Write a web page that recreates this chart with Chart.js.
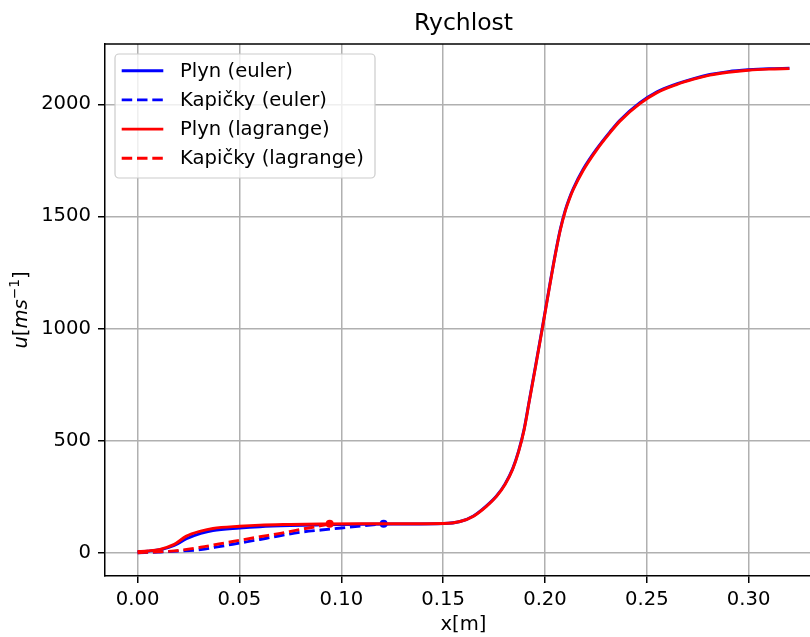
<!DOCTYPE html>
<html>
<head>
<meta charset="utf-8">
<title>Rychlost</title>
<script src="https://cdn.jsdelivr.net/npm/chart.js@4.4.0/dist/chart.umd.min.js"></script>
<style>
    html, body { margin: 0; padding: 0; background: #fff; overflow: hidden; }
    #wrap { width: 810px; height: 637px; overflow: hidden; }
    #wrap canvas { display: block; }
</style>
</head>
<body>
<div id="wrap"><canvas id="chart" width="830" height="637"></canvas></div>
<script>
// x positions [m] of the gas profile
const gasX = [0, 0.005, 0.011, 0.018, 0.024, 0.031, 0.037, 0.05, 0.06, 0.075, 0.09, 0.11, 0.13, 0.1502,
    0.1583, 0.1649, 0.1714, 0.1763, 0.1804, 0.1841, 0.1871, 0.1897, 0.1923, 0.1956, 0.1989, 0.2020, 0.2051,
    0.2075, 0.21, 0.212, 0.2139,
    0.2188, 0.2253, 0.2319, 0.2368, 0.2466, 0.2550, 0.2646, 0.2730, 0.2809, 0.2900, 0.2997, 0.31, 0.32];
// gas velocity [m/s]
const gasEuler = [4, 7, 13, 32, 62, 86, 99, 110, 116, 121, 124, 127, 128, 130,
    139, 164, 210, 254, 307, 374, 455, 549, 679, 845, 1014, 1177, 1334,
    1442, 1529, 1582, 1624,
    1711, 1800, 1877, 1929, 2007, 2056, 2091, 2115, 2133, 2146, 2154, 2159, 2161];
const gasLagrange = [5, 8, 15, 37, 74, 96, 108, 118, 123, 126, 128, 129, 129, 130,
    139, 163, 208, 252, 304, 371, 452, 545, 675, 840, 1010, 1173, 1330,
    1438, 1525, 1578, 1620,
    1706, 1796, 1873, 1925, 2003, 2052, 2088, 2112, 2130, 2143, 2152, 2157, 2159];

// droplets
const dropEulerX = [0, 0.01, 0.02, 0.031, 0.04, 0.05, 0.06, 0.067, 0.08, 0.09, 0.10, 0.11, 0.1208];
const dropEuler = [0, 3, 7, 14, 27, 43, 59, 71, 91, 101, 110, 119, 129];
const dropLagrangeX = [0, 0.01, 0.018, 0.031, 0.04, 0.05, 0.06, 0.07, 0.08, 0.087, 0.0943];
const dropLagrange = [0, 4, 8, 24, 39, 55, 71, 86, 104, 115, 129];

// tick labels
const xTicks = [0, 0.05, 0.10, 0.15, 0.20, 0.25, 0.30];
const yTicks = [0, 500, 1000, 1500, 2000];

// y axis label pieces: u[ms^-1]
const yTitle = [
    { t: 'u', style: 'italic', size: 19.6, rise: 0 },
    { t: '[', style: 'normal', size: 19.6, rise: 0 },
    { t: 'ms', style: 'italic', size: 19.6, rise: 0 },
    { t: '−1', style: 'normal', size: 13.7, rise: 8 },
    { t: ']', style: 'normal', size: 19.6, rise: 0 }
];

const FONT = 'DejaVu Sans';
const FS = 19.6;
const toPoints = (xs, ys) => xs.map((x, i) => ({ x: x, y: ys[i] }));
const lastDot = ctx => ctx.dataIndex === ctx.dataset.data.length - 1 ? 4 : 0;

function makeSet(label, xs, ys, color, dashed, order) {
    return {
        label: label,
        data: toPoints(xs, ys),
        borderColor: color,
        backgroundColor: color,
        borderWidth: 2.9,
        borderDash: dashed ? [10.5, 4.8] : [],
        pointRadius: dashed ? lastDot : 0,
        pointBorderWidth: 0,
        pointBackgroundColor: color,
        pointHoverRadius: 0,
        cubicInterpolationMode: 'monotone',
        fill: false,
        order: order
    };
}

// legend box inside the axes + top spine (like matplotlib)
const boxLegend = {
    id: 'boxLegend',
    afterDatasetsDraw(chart) {
        const ctx = chart.ctx;
        const area = chart.chartArea;
        ctx.save();
        // top spine
        ctx.beginPath();
        ctx.strokeStyle = '#000';
        ctx.lineWidth = 1.5;
        ctx.moveTo(area.left, area.top);
        ctx.lineTo(area.right, area.top);
        ctx.stroke();

        const x0 = area.left + 10, y0 = area.top + 10;
        const w = 260, h = 124, rowH = 29.2;
        ctx.beginPath();
        ctx.roundRect(x0, y0, w, h, 4);
        ctx.fillStyle = 'rgba(255,255,255,0.8)';
        ctx.fill();
        ctx.strokeStyle = '#cccccc';
        ctx.lineWidth = 1.2;
        ctx.stroke();

        chart.data.datasets.forEach((ds, i) => {
            const cy = y0 + 16.7 + i * rowH;
            ctx.beginPath();
            ctx.setLineDash(ds.borderDash);
            ctx.strokeStyle = ds.borderColor;
            ctx.lineWidth = ds.borderWidth;
            ctx.moveTo(x0 + 6.7, cy);
            ctx.lineTo(x0 + 48.3, cy);
            ctx.stroke();
            ctx.setLineDash([]);
            ctx.fillStyle = '#000';
            ctx.font = FS + 'px "' + FONT + '"';
            ctx.textBaseline = 'middle';
            ctx.textAlign = 'left';
            ctx.fillText(ds.label, x0 + 65, cy + 1);
        });
        ctx.restore();
    }
};

// rotated mathtext-like y label
const yLabel = {
    id: 'yLabel',
    afterDraw(chart) {
        const ctx = chart.ctx;
        const area = chart.chartArea;
        ctx.save();
        const fontOf = p => p.style + ' ' + p.size + 'px "' + FONT + '"';
        let total = 0;
        yTitle.forEach(p => { ctx.font = fontOf(p); total += ctx.measureText(p.t).width; });
        ctx.translate(26.5, (area.top + area.bottom) / 2 + total / 2);
        ctx.rotate(-Math.PI / 2);
        ctx.fillStyle = '#000';
        ctx.textBaseline = 'alphabetic';
        ctx.textAlign = 'left';
        let x = 0;
        yTitle.forEach(p => {
            ctx.font = fontOf(p);
            ctx.fillText(p.t, x, -p.rise);
            x += ctx.measureText(p.t).width;
        });
        ctx.restore();
    }
};

const ctx = document.getElementById('chart').getContext('2d');
new Chart(ctx, {
    type: 'line',
    data: {
        datasets: [
            makeSet('Plyn (euler)', gasX, gasEuler, '#0000ff', false, 1),
            makeSet('Kapičky (euler)', dropEulerX, dropEuler, '#0000ff', true, 1),
            makeSet('Plyn (lagrange)', gasX, gasLagrange, '#ff0000', false, 0),
            makeSet('Kapičky (lagrange)', dropLagrangeX, dropLagrange, '#ff0000', true, 0)
        ]
    },
    options: {
        responsive: false,
        devicePixelRatio: 1,
        animation: false,
        events: [],
        layout: { padding: { right: 8 } },
        scales: {
            x: {
                type: 'linear',
                min: -0.016,
                max: 0.336,
                afterBuildTicks: s => { s.ticks = xTicks.map(v => ({ value: v })); },
                afterFit: s => { s.height = 61; },
                ticks: {
                    callback: v => v.toFixed(2),
                    color: '#000',
                    font: { family: FONT, size: FS },
                    padding: 5,
                    maxRotation: 0,
                    autoSkip: false
                },
                grid: { color: '#b0b0b0', lineWidth: 1.5, tickColor: '#000', tickLength: 7, tickWidth: 1.5 },
                border: { color: '#000', width: 1.5 },
                title: {
                    display: true,
                    text: 'x[m]',
                    color: '#000',
                    font: { family: FONT, size: FS },
                    padding: { top: 0, bottom: 0 }
                }
            },
            y: {
                type: 'linear',
                min: -104,
                max: 2269,
                afterBuildTicks: s => { s.ticks = yTicks.map(v => ({ value: v })); },
                afterFit: s => { s.width = 105; },
                ticks: {
                    callback: v => String(v),
                    color: '#000',
                    font: { family: FONT, size: FS },
                    padding: 7
                },
                grid: { color: '#b0b0b0', lineWidth: 1.5, tickColor: '#000', tickLength: 7, tickWidth: 1.5 },
                border: { color: '#000', width: 1.5 },
                title: { display: false }
            }
        },
        plugins: {
            legend: { display: false },
            tooltip: { enabled: false },
            title: {
                display: true,
                text: 'Rychlost',
                color: '#000',
                fullSize: false,
                font: { family: FONT, size: 23.5, weight: 'normal' },
                padding: { top: 10, bottom: 5.8 }
            }
        }
    },
    plugins: [boxLegend, yLabel]
});
</script>
</body>
</html>
